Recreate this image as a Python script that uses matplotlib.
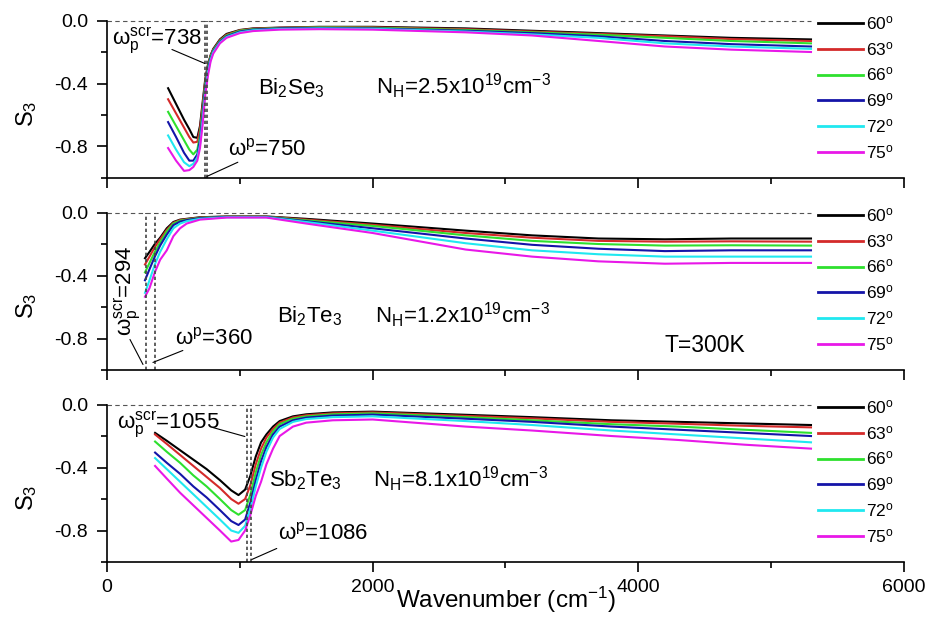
import matplotlib
matplotlib.use("Agg")
import matplotlib.pyplot as plt
from matplotlib.ticker import FixedLocator

plt.rcParams['font.family'] = ['Liberation Sans', 'DejaVu Sans']
plt.rcParams['mathtext.default'] = 'regular'

angles = ["60", "63", "66", "69", "72", "75"]
colors = ["#000000", "#d42a2a", "#2ee02e", "#1414a8", "#20e8f0", "#e818e8"]
xticks = [0, 2000, 4000, 6000]
yticks = [0.0, -0.4, -0.8]

# ---- Panel 1: Bi2Se3 ----
x1 = [460, 520, 580, 620, 650, 680, 700, 720, 740, 760, 780, 800, 850, 900, 1000, 1100, 1300, 1600,
      2000, 2700, 3200, 3700, 4200, 4700, 5300]
s1_60 = [-0.43, -0.53, -0.63, -0.69, -0.74, -0.745, -0.67, -0.52, -0.37, -0.28, -0.22, -0.18, -0.12, -0.085, -0.06,
         -0.05, -0.045, -0.04, -0.04, -0.05, -0.065, -0.08, -0.095, -0.11, -0.12]
s1_63 = [-0.50, -0.59, -0.68, -0.74, -0.775, -0.77, -0.69, -0.54, -0.38, -0.29, -0.225, -0.185, -0.125, -0.09, -0.062,
         -0.052, -0.046, -0.042, -0.043, -0.055, -0.07, -0.085, -0.10, -0.118, -0.13]
s1_66 = [-0.58, -0.67, -0.76, -0.82, -0.85, -0.82, -0.73, -0.57, -0.40, -0.30, -0.23, -0.19, -0.13, -0.095, -0.065,
         -0.055, -0.048, -0.044, -0.046, -0.06, -0.075, -0.09, -0.11, -0.13, -0.145]
s1_69 = [-0.645, -0.74, -0.84, -0.89, -0.89, -0.85, -0.76, -0.60, -0.42, -0.31, -0.24, -0.195, -0.135, -0.10, -0.07,
         -0.058, -0.05, -0.047, -0.05, -0.065, -0.08, -0.10, -0.13, -0.15, -0.165]
s1_72 = [-0.73, -0.82, -0.90, -0.925, -0.91, -0.87, -0.79, -0.63, -0.45, -0.33, -0.25, -0.20, -0.14, -0.105, -0.075,
         -0.062, -0.054, -0.05, -0.053, -0.07, -0.088, -0.11, -0.145, -0.165, -0.18]
s1_75 = [-0.81, -0.89, -0.955, -0.95, -0.93, -0.89, -0.81, -0.66, -0.47, -0.35, -0.26, -0.21, -0.145, -0.11, -0.08,
         -0.067, -0.058, -0.055, -0.058, -0.075, -0.095, -0.13, -0.165, -0.185, -0.20]

# ---- Panel 2: Bi2Te3 ----
x2 = [286, 320, 360, 400, 450, 500, 550, 600, 700, 900, 1200, 1500, 2000, 2700, 3200, 3700, 4200, 4700, 5300]
s2_60 = [-0.29, -0.25, -0.20, -0.16, -0.10, -0.06, -0.045, -0.04, -0.03, -0.025, -0.025, -0.04, -0.07, -0.115, -0.145,
         -0.165, -0.17, -0.165, -0.165]
s2_63 = [-0.33, -0.28, -0.22, -0.17, -0.11, -0.065, -0.048, -0.042, -0.032, -0.026, -0.026, -0.045, -0.078, -0.13, -0.16,
         -0.18, -0.185, -0.183, -0.185]
s2_66 = [-0.38, -0.32, -0.25, -0.19, -0.12, -0.07, -0.052, -0.045, -0.034, -0.027, -0.027, -0.05, -0.085, -0.145, -0.18,
         -0.20, -0.21, -0.208, -0.21]
s2_69 = [-0.43, -0.36, -0.28, -0.21, -0.14, -0.08, -0.058, -0.048, -0.036, -0.028, -0.028, -0.055, -0.10, -0.165, -0.205,
         -0.23, -0.245, -0.24, -0.24]
s2_72 = [-0.51, -0.43, -0.33, -0.25, -0.17, -0.10, -0.07, -0.055, -0.04, -0.03, -0.03, -0.06, -0.115, -0.195, -0.24,
         -0.265, -0.28, -0.28, -0.28]
s2_75 = [-0.535, -0.48, -0.38, -0.30, -0.24, -0.15, -0.10, -0.07, -0.045, -0.032, -0.032, -0.07, -0.13, -0.235, -0.28,
         -0.31, -0.325, -0.32, -0.32]

# ---- Panel 3: Sb2Te3 ----
x3 = [362, 450, 550, 650, 750, 850, 935, 990, 1040, 1080, 1120, 1160, 1200, 1250, 1300, 1400, 1500, 1700,
      2000, 2700, 3200, 3800, 4300, 4800, 5300]
s3_60 = [-0.18, -0.23, -0.29, -0.35, -0.41, -0.48, -0.545, -0.575, -0.54, -0.45, -0.33, -0.24, -0.19, -0.14, -0.105,
         -0.075, -0.062, -0.05, -0.045, -0.065, -0.08, -0.10, -0.11, -0.12, -0.13]
s3_63 = [-0.19, -0.25, -0.32, -0.39, -0.46, -0.53, -0.60, -0.63, -0.60, -0.51, -0.38, -0.28, -0.21, -0.155, -0.115,
         -0.082, -0.068, -0.056, -0.05, -0.072, -0.088, -0.11, -0.122, -0.135, -0.145]
s3_66 = [-0.235, -0.30, -0.37, -0.45, -0.52, -0.60, -0.67, -0.70, -0.67, -0.57, -0.43, -0.32, -0.24, -0.17, -0.125,
         -0.09, -0.075, -0.062, -0.056, -0.08, -0.10, -0.125, -0.14, -0.16, -0.18]
s3_69 = [-0.305, -0.37, -0.44, -0.52, -0.59, -0.67, -0.74, -0.765, -0.73, -0.62, -0.48, -0.36, -0.27, -0.19, -0.14,
         -0.10, -0.083, -0.07, -0.064, -0.09, -0.11, -0.14, -0.16, -0.18, -0.20]
s3_72 = [-0.34, -0.41, -0.49, -0.57, -0.65, -0.73, -0.80, -0.815, -0.77, -0.66, -0.52, -0.40, -0.30, -0.21, -0.155,
         -0.11, -0.092, -0.08, -0.075, -0.105, -0.13, -0.165, -0.19, -0.215, -0.24]
s3_75 = [-0.39, -0.47, -0.56, -0.64, -0.72, -0.80, -0.87, -0.86, -0.80, -0.70, -0.58, -0.49, -0.38, -0.28, -0.20,
         -0.14, -0.115, -0.10, -0.095, -0.14, -0.165, -0.20, -0.225, -0.255, -0.28]

panels = [
    dict(x=x1, ys=[s1_60, s1_63, s1_66, s1_69, s1_72, s1_75], wscr=738, wp=750,
         mat="Bi$_2$Se$_3$", nh="N$_H$=2.5x10$^{19}$cm$^{-3}$", tpos=(0.189, 0.338, 0.532)),
    dict(x=x2, ys=[s2_60, s2_63, s2_66, s2_69, s2_72, s2_75], wscr=294, wp=360,
         mat="Bi$_2$Te$_3$", nh="N$_H$=1.2x10$^{19}$cm$^{-3}$", tpos=(0.213, 0.336, 0.30)),
    dict(x=x3, ys=[s3_60, s3_63, s3_66, s3_69, s3_72, s3_75], wscr=1055, wp=1086,
         mat="Sb$_2$Te$_3$", nh="N$_H$=8.1x10$^{19}$cm$^{-3}$", tpos=(0.203, 0.334, 0.478)),
]

fig = plt.figure(figsize=(9.28, 6.18), dpi=100)
bottoms = [0.712, 0.4013, 0.0906]
axes = []
for i, p in enumerate(panels):
    ax = fig.add_axes([0.1153, bottoms[i], 0.8588, 0.2548])
    axes.append(ax)
    for y, c, a in zip(p["ys"], colors, angles):
        ax.plot(p["x"], y, color=c, lw=1.5, label=a + "$^{o}$")
    ax.set_xlim(0, 6000)
    ax.set_ylim(-1.0, 0.0)
    ax.hlines(0.0, 0, max(p["x"]), colors="#555555", linestyles=(0, (4, 3)), lw=0.8, clip_on=False)
    for w in (p["wscr"], p["wp"]):
        ax.vlines(w, -1.0, 0.0, colors="#444444", linestyles=(0, (2, 1.6)), lw=1.2)
    ax.spines['top'].set_visible(False)
    ax.spines['right'].set_visible(False)
    ax.spines['left'].set_linewidth(1.2)
    ax.spines['bottom'].set_linewidth(1.2)
    ax.xaxis.set_major_locator(FixedLocator(xticks))
    ax.xaxis.set_minor_locator(FixedLocator([1000, 3000, 5000]))
    ax.yaxis.set_major_locator(FixedLocator(yticks))
    ax.yaxis.set_minor_locator(FixedLocator([-0.2, -0.6, -1.0]))
    ax.set_yticklabels(["0.0", "-0.4", "-0.8"])
    ax.tick_params(axis='both', which='major', direction='out', length=7.5, width=1.2, labelsize=14)
    ax.tick_params(axis='both', which='minor', direction='out', length=4.3, width=1.2)
    ax.tick_params(axis='y', which='major', pad=6)
    ax.tick_params(axis='x', which='major', pad=5)
    if i < 2:
        ax.tick_params(axis='x', labelbottom=False)
    else:
        ax.set_xticklabels([str(t) for t in xticks])
    ax.set_ylabel("S$_3$", fontsize=17)
    ax.yaxis.set_label_coords(-0.085, 0.41)
    leg = ax.legend(loc="upper left", bbox_to_anchor=(0.884, 1.085), frameon=False, fontsize=12.5,
                    handlelength=2.55, handletextpad=0.17, labelspacing=0.45, borderaxespad=0)
    for line in leg.get_lines():
        line.set_linewidth(2.0)
    tx1, tx2, ty = p["tpos"]
    ax.text(tx1, ty, p["mat"], transform=ax.transAxes, fontsize=16, ha="left", va="baseline")
    ax.text(tx2, ty, p["nh"], transform=ax.transAxes, fontsize=16, ha="left", va="baseline")

lk = dict(arrowstyle="-", lw=0.8, color="black", shrinkA=0, shrinkB=0)

# annotations panel 1
ax = axes[0]
ax.text(38, -0.146, "ω$_p^{scr}$=738", fontsize=16, ha="left", va="baseline")
ax.annotate("", xy=(737, -0.273), xytext=(489, -0.184), arrowprops=lk)
ax.text(910, -0.857, "ω$^p$=750", fontsize=16, ha="left", va="baseline")
ax.annotate("", xy=(752, -0.99), xytext=(985, -0.90), arrowprops=lk)

# annotations panel 2
ax = axes[1]
ax.text(150, -0.495, "ω$_p^{scr}$=294", fontsize=16, ha="center", va="center", rotation=90)
ax.annotate("", xy=(271, -0.965), xytext=(173, -0.806), arrowprops=lk)
ax.text(511, -0.838, "ω$^p$=360", fontsize=16, ha="left", va="baseline")
ax.annotate("", xy=(346, -0.952), xytext=(571, -0.876), arrowprops=lk)
ax.text(0.70, 0.115, "T=300K", transform=ax.transAxes, fontsize=16.5, ha="left", va="baseline")

# annotations panel 3
ax = axes[2]
ax.text(75, -0.146, "ω$_p^{scr}$=1055", fontsize=16, ha="left", va="baseline")
ax.annotate("", xy=(1038, -0.203), xytext=(797, -0.146), arrowprops=lk)
ax.text(1286, -0.857, "ω$^p$=1086", fontsize=16, ha="left", va="baseline")
ax.annotate("", xy=(1090, -0.984), xytext=(1278, -0.914), arrowprops=lk)

fig.text(0.545, 0.017, "Wavenumber (cm$^{-1}$)", fontsize=17.5, ha="center", va="baseline")

fig.savefig("out.png", dpi=100)
